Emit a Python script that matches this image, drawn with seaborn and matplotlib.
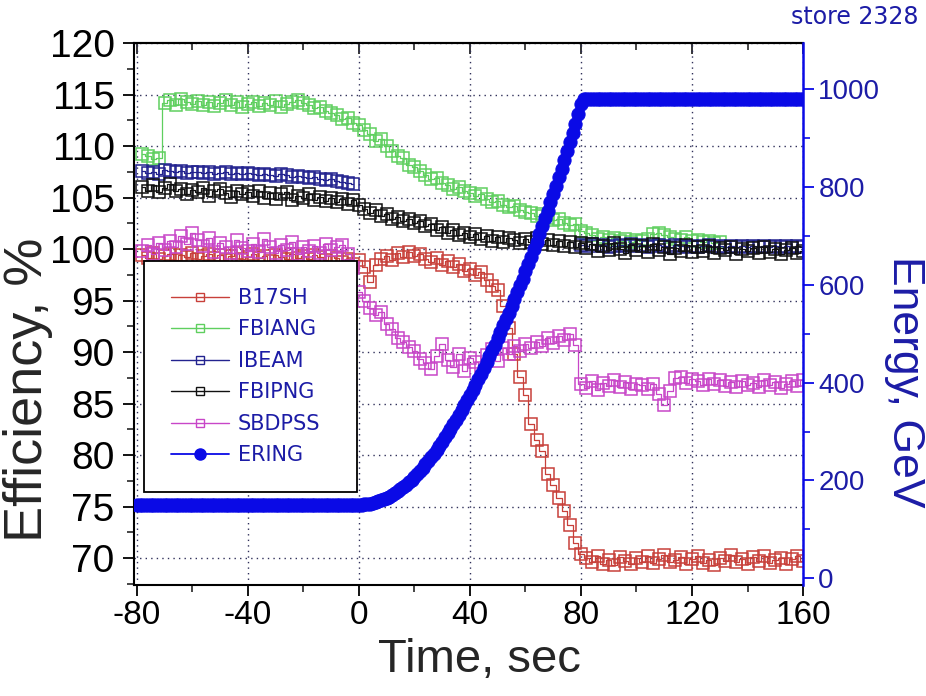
import numpy as np
import pandas as pd
import matplotlib
matplotlib.use("Agg")
import matplotlib.pyplot as plt
from matplotlib.lines import Line2D
from matplotlib.ticker import MultipleLocator
import seaborn as sns

sns.set_theme(style="ticks")
plt.rcParams['font.family'] = ['Liberation Sans', 'DejaVu Sans']
plt.rcParams['axes.unicode_minus'] = False

# ---------------- data ----------------
# square-marker series sampled every 2 s from -78 s
t_sq = np.arange(-78, 161, 2)

b17sh = [99.4, 99.1, 99.6, 99.0, 99.3, 99.5, 98.9, 99.4, 99.2, 99.6,
         99.0, 99.3, 99.5, 99.1, 99.4, 98.9, 99.3, 99.6, 99.0, 99.2,
         99.5, 99.1, 99.3, 98.8, 99.4, 99.2, 99.0, 99.5, 99.1, 99.3,
         99.0, 99.4, 99.2, 98.9, 99.3, 99.1, 98.7, 99.0, 98.6, 98.9,
         98.3, 96.8, 98.5, 99.0, 99.3, 98.9, 99.6, 99.2, 99.7, 99.3,
         99.5, 99.0, 98.7, 99.1, 98.5, 98.8, 98.3, 98.6, 97.9, 98.1,
         97.5, 97.8, 97.0, 96.4, 96.0, 94.5, 92.3, 89.8, 87.6, 85.8,
         83.0, 81.5, 80.4, 78.2, 77.1, 75.8, 74.6, 73.2, 71.5, 70.4,
         70.0, 69.6, 70.2, 69.4, 69.8, 69.3, 70.1, 69.7, 69.4, 70.0,
         69.6, 70.2, 69.5, 69.9, 70.3, 69.6, 69.8, 70.1, 69.4, 69.9,
         70.2, 69.5, 69.8, 69.3, 70.0, 69.7, 70.3, 69.6, 69.9, 69.4,
         70.1, 69.7, 70.2, 69.5, 69.8, 70.0, 69.4, 69.9, 70.2, 69.7]

fbiang = [109.2, 109.0, 108.7, 108.8, 114.2, 114.5, 114.0, 114.6, 114.3, 114.1,
          114.4, 114.0, 114.3, 113.9, 114.2, 114.5, 114.0, 114.3, 113.8, 114.1,
          114.3, 113.9, 114.2, 114.0, 114.4, 113.8, 114.1, 114.3, 114.5, 114.2,
          114.0, 113.7, 113.8, 113.4, 113.2, 113.0, 112.6, 112.7, 112.2, 112.0,
          111.6, 111.2, 110.5, 110.7, 110.0, 109.5, 109.0, 108.8, 108.2, 108.0,
          107.6, 107.2, 106.8, 106.9, 106.4, 106.2, 105.8, 106.0, 105.6, 105.4,
          105.2, 105.3, 104.9, 104.6, 104.7, 104.3, 104.1, 104.2, 103.8, 103.6,
          103.5, 103.2, 103.4, 103.0, 102.8, 102.9, 102.5, 102.3, 102.4, 101.8,
          101.6, 101.4, 101.0, 101.2, 100.9, 101.1, 100.8, 101.0, 100.7, 100.9,
          100.8, 101.0, 101.5, 101.6, 101.4, 101.2, 101.0, 100.9, 101.2, 100.8,
          100.9, 100.7, 100.8, 100.6, 100.7]

ibeam_before = [107.6, 107.4, 107.5, 107.3, 107.7, 107.6, 107.5, 107.6, 107.4, 107.5,
                107.5, 107.4, 107.5, 107.3, 107.4, 107.5, 107.3, 107.4, 107.3, 107.4,
                107.3, 107.2, 107.3, 107.2, 107.1, 107.3, 107.2, 107.0, 107.1, 107.0,
                106.9, 107.0, 106.8, 106.7, 106.8, 106.6, 106.5, 106.4, 106.3]
t_ibeam_after = np.arange(80, 161, 2)
ibeam_after = [100.4, 100.3, 100.5, 100.3, 100.4, 100.2, 100.3, 100.4, 100.3, 100.5,
               100.3, 100.4, 100.2, 100.3, 100.4, 100.3, 100.2, 100.4, 100.3, 100.2,
               100.3, 100.2, 100.3, 100.4, 100.2, 100.3, 100.2, 100.3, 100.2, 100.3,
               100.2, 100.3, 100.2, 100.3, 100.2, 100.3, 100.2, 100.3, 100.2, 100.3, 100.2]

fbipng = [106.0, 105.6, 106.2, 105.5, 105.9, 106.3, 105.6, 105.8, 105.3, 105.7,
          105.5, 105.9, 105.2, 105.6, 105.8, 105.4, 105.1, 105.6, 105.3, 105.5,
          105.2, 105.6, 105.0, 105.4, 104.9, 105.3, 105.5, 104.8, 105.2, 105.0,
          105.3, 104.8, 105.1, 104.7, 105.0, 104.6, 104.9, 104.4, 104.8, 104.3,
          103.9, 103.5, 103.8, 103.2, 103.4, 102.9, 103.1, 102.7, 102.9, 102.5,
          102.7, 102.2, 102.4, 101.9, 102.1, 101.6, 101.9, 101.4, 101.6, 101.2,
          101.5, 101.0, 101.3, 100.8, 101.2, 100.7, 101.1, 100.9, 100.6, 101.0,
          100.7, 101.1, 100.5, 100.9, 100.4, 100.8, 100.3, 100.7, 100.2, 100.6,
          100.1, 100.5, 99.8, 100.3, 99.9, 100.6, 100.0, 99.6, 100.4, 99.9,
          100.3, 99.7, 100.5, 99.9, 100.2, 99.5, 100.1, 99.8, 100.4, 99.7,
          100.2, 99.8, 100.3, 99.6, 100.1, 99.9, 100.2, 99.5, 100.0, 99.8,
          100.1, 99.6, 100.2, 99.7, 100.0, 99.5, 99.9, 100.1, 99.6, 99.8]

sbdpss = [99.8, 100.4, 99.5, 100.6, 99.9, 100.8, 100.2, 101.3, 100.5, 101.6,
          100.9, 100.3, 101.1, 99.7, 100.6, 100.2, 99.6, 100.9, 100.1, 99.8,
          100.5, 99.7, 101.0, 100.2, 99.6, 100.4, 99.9, 100.7, 99.5, 100.2,
          99.8, 100.3, 99.6, 100.5, 99.9, 100.2, 100.4, 99.5, 98.2, 95.8,
          95.0, 94.3, 93.6, 93.9, 92.7, 92.2, 91.4, 91.0, 90.5, 90.1,
          89.3, 88.9, 88.4, 89.6, 90.8, 89.2, 88.6, 89.8, 88.2, 89.4,
          89.0, 88.5, 89.7, 90.3, 89.1, 90.4, 89.8, 90.6, 90.1, 90.8,
          90.4, 91.0, 90.6, 91.4, 90.9, 91.6, 91.2, 91.8, 90.7, 86.9,
          86.5, 87.2, 86.3, 87.0, 86.7, 87.3, 86.6, 87.1, 86.4, 86.9,
          86.8, 86.4, 86.9, 85.9, 84.9, 86.2, 87.5, 87.6, 87.0, 87.4,
          87.2, 86.8, 87.4, 86.9, 87.3, 86.7, 87.1, 86.6, 87.2, 86.8,
          87.0, 86.6, 87.3, 86.8, 87.1, 86.5, 86.9, 87.2, 86.7, 87.3]

# ERING energy (GeV), sampled every 1 s from -80 s
t_ering = np.arange(-80, 161, 1)
ering_injection = [150] * 80            # -80 .. -1 s
ering_ramp = [150, 150, 151, 151, 152, 153, 155, 157, 159, 161,
              164, 167, 170, 174, 178, 182, 186, 191, 196, 201,
              207, 213, 219, 226, 233, 240, 247, 255, 263, 271,
              279, 288, 297, 306, 315, 324, 334, 344, 354, 364,
              374, 385, 396, 407, 418, 430, 442, 454, 466, 478,
              491, 504, 517, 530, 543, 557, 571, 585, 599, 613,
              628, 643, 658, 673, 688, 704, 720, 736, 752, 769,
              786, 803, 820, 838, 856, 874, 892, 911, 930, 950,
              970, 980]                  # 0 .. 81 s
ering_flattop = [980] * 79              # 82 .. 160 s
ering = ering_injection + ering_ramp + ering_flattop

labels = ["B17SH", "FBIANG", "IBEAM", "FBIPNG", "SBDPSS", "ERING"]
colors = {"B17SH": "#c8403a", "FBIANG": "#5fcf5f", "IBEAM": "#23238f",
          "FBIPNG": "#111111", "SBDPSS": "#c846c8", "ERING": "#0a0ae6"}
text_blue = "#1c1ca6"

# ---------------- figure ----------------
fig = plt.figure(figsize=(9.26, 6.96), dpi=100)
ax = fig.add_axes([0.1447, 0.1595, 0.7225, 0.7787])
ax2 = ax.twinx()

def sq_plot(t, y, name):
    df = pd.DataFrame({"t": t[:len(y)], "y": y})
    sns.lineplot(data=df, x="t", y="y", ax=ax, color=colors[name], lw=0.9,
                 marker="s", markersize=8.5, markerfacecolor="none",
                 markeredgecolor=colors[name], markeredgewidth=1.1,
                 drawstyle="steps-mid", errorbar=None, legend=False, sort=False)

sq_plot(t_sq, b17sh, "B17SH")
sq_plot(t_sq, fbiang, "FBIANG")
sq_plot(t_sq, ibeam_before, "IBEAM")
sq_plot(t_ibeam_after, ibeam_after, "IBEAM")
sq_plot(t_sq, fbipng, "FBIPNG")
sq_plot(t_sq, sbdpss, "SBDPSS")

df_e = pd.DataFrame({"t": t_ering, "E": ering})
sns.lineplot(data=df_e, x="t", y="E", ax=ax2, color=colors["ERING"], lw=1.5,
             marker="o", markersize=9.5, markeredgecolor=colors["ERING"],
             markerfacecolor=colors["ERING"], errorbar=None, legend=False)

# axes limits / ticks
ax.set_xlim(-81, 160)
ax.set_ylim(67.4, 120)
ax2.set_ylim(-14, 1095)

ax.xaxis.set_major_locator(MultipleLocator(40))
ax.xaxis.set_minor_locator(MultipleLocator(20))
ax.yaxis.set_major_locator(MultipleLocator(5))
ax.yaxis.set_minor_locator(MultipleLocator(2.5))
ax2.yaxis.set_major_locator(MultipleLocator(200))
ax2.yaxis.set_minor_locator(MultipleLocator(100))

ax.tick_params(axis="x", which="major", direction="out", length=8, width=1.3,
               labelsize=24, pad=3, colors="black")
ax.tick_params(axis="x", which="minor", direction="out", length=5, width=1.2)
ax.tick_params(axis="y", which="major", direction="out", length=8, width=1.3,
               labelsize=28, pad=6, colors="black")
ax.tick_params(axis="y", which="minor", direction="out", length=5, width=1.2)
ax2.tick_params(axis="y", which="major", direction="out", length=8, width=1.3,
                labelsize=20, colors=colors["ERING"], labelcolor=text_blue, pad=3)
ax2.tick_params(axis="y", which="minor", direction="out", length=5, width=1.2,
                colors=colors["ERING"])

top = ax.secondary_xaxis("top")
top.xaxis.set_major_locator(MultipleLocator(40))
top.xaxis.set_minor_locator(MultipleLocator(20))
top.tick_params(axis="x", which="major", direction="in", length=8, width=1.3,
                labeltop=False)
top.tick_params(axis="x", which="minor", direction="in", length=5, width=1.2)
top.spines["top"].set_linewidth(1.5)

ax.grid(True, which="major", linestyle=(0, (1, 3)), color="#30305a", lw=1.0)
ax2.grid(False)

for s in ["left", "bottom", "top"]:
    ax.spines[s].set_linewidth(1.5)
    ax.spines[s].set_color("black")
for s in ["left", "bottom", "top"]:
    ax2.spines[s].set_visible(False)
ax2.spines["right"].set_color(colors["ERING"])
ax2.spines["right"].set_linewidth(1.8)
ax.spines["right"].set_visible(False)

ax.set_xlabel("Time, sec", fontsize=34)
ax.xaxis.set_label_coords(0.517, -0.098)
ax.set_ylabel("Efficiency, %", fontsize=39)
ax.yaxis.set_label_coords(-0.121, 0.36)
ax2.set_ylabel("Energy, GeV", fontsize=32, color=text_blue, rotation=270,
               va="center")
ax2.yaxis.set_label_coords(1.152, 0.375)

fig.text(0.923, 0.976, "store 2328", fontsize=17, color=text_blue,
         ha="center", va="center", family="DejaVu Sans")

# legend
handles = []
for name in labels:
    if name == "ERING":
        h = Line2D([], [], color=colors[name], lw=1.3, marker="o", markersize=8,
                   markerfacecolor=colors[name], markeredgecolor=colors[name])
    else:
        h = Line2D([], [], color=colors[name], lw=1.0, marker="s", markersize=6,
                   markerfacecolor="none", markeredgecolor=colors[name],
                   markeredgewidth=1.0)
    handles.append(h)
leg = ax2.legend(handles, labels, loc="upper left",
                 bbox_to_anchor=(0.015, 0.598, 0.318, 0.0), mode="expand",
                 prop={"family": "DejaVu Sans", "size": 15},
                 handlelength=2.8, handletextpad=0.4,
                 labelspacing=0.55, borderpad=1.3, frameon=True,
                 fancybox=False, framealpha=1.0, edgecolor="black",
                 borderaxespad=0.0)
leg.get_frame().set_linewidth(1.3)
for txt in leg.get_texts():
    txt.set_color(text_blue)

fig.savefig("out.png", dpi=100)
